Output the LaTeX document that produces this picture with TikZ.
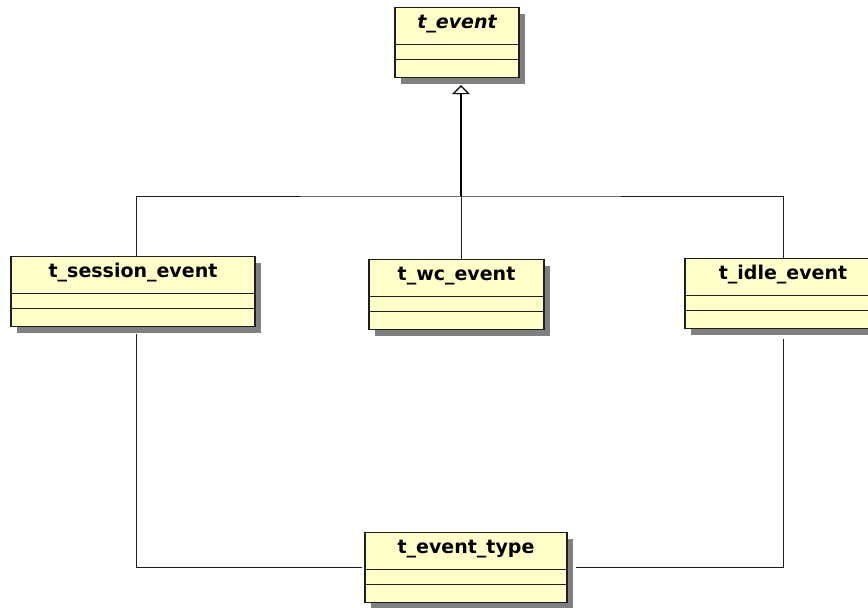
\documentclass[tikz,border=0pt]{standalone}
\usepackage{fontspec}
\setmainfont{DejaVu Sans}
\usepackage{tikz}
\usetikzlibrary{arrows.meta,positioning,shadows}
\definecolor{classFill}{RGB}{255,255,202}
\definecolor{classLine}{RGB}{30,30,30}
\definecolor{shadowGray}{RGB}{128,128,128}
\tikzset{
  classbox/.style={draw=classLine, line width=1.2pt, fill=classFill, anchor=north, inner sep=0pt,
    text height=21pt, text depth=49pt, font=\bfseries\fontsize{19}{22}\selectfont,
    drop shadow={shadow xshift=6pt, shadow yshift=-6pt, fill=shadowGray, opacity=1},
    path picture={
      \draw[classLine, line width=1.2pt] ([yshift=18pt]path picture bounding box.south west) -- ([yshift=18pt]path picture bounding box.south east);
      \draw[classLine, line width=1.2pt] ([yshift=33pt]path picture bounding box.south west) -- ([yshift=33pt]path picture bounding box.south east);
    }},
  assoc/.style={draw=classLine, line width=1pt},
  inherit/.style={draw=black, line width=1.6pt, -{Triangle[open, width=18pt, length=9pt, line width=1.2pt]}}
}
\begin{document}
\begin{tikzpicture}[x=1pt, y=-1pt]
  \useasboundingbox (0,0) rectangle (868,608);
  \node[classbox, minimum width=124pt, font=\bfseries\itshape\fontsize{19}{22}\selectfont] (ev) at (457,7) {t\_event};
  \node[classbox, minimum width=244pt] (sess) at (133,256) {t\_session\_event};
  \node[classbox, minimum width=175pt] (wc) at (456.5,259) {t\_wc\_event};
  \node[classbox, minimum width=196pt] (idle) at (783,258) {t\_idle\_event};
  \node[classbox, minimum width=202pt] (evtype) at (466,532) {t\_event\_type};
  \coordinate (join) at (461,196);
  % generalisation
  \draw[assoc] ([xshift=3.5pt]sess.north) |- (join) -| (idle.north);
  \draw[assoc] (wc.north -| join) -- (join);
  \draw[inherit, shorten >=7pt] (join) -- (ev.south -| join);
  % association
  \draw[assoc, shorten <=7pt] ([xshift=3.5pt]sess.south) |- ([xshift=-2pt]evtype.west);
  \draw[assoc, shorten <=10pt] (idle.south) |- ([xshift=8pt]evtype.east);
\end{tikzpicture}
\end{document}
